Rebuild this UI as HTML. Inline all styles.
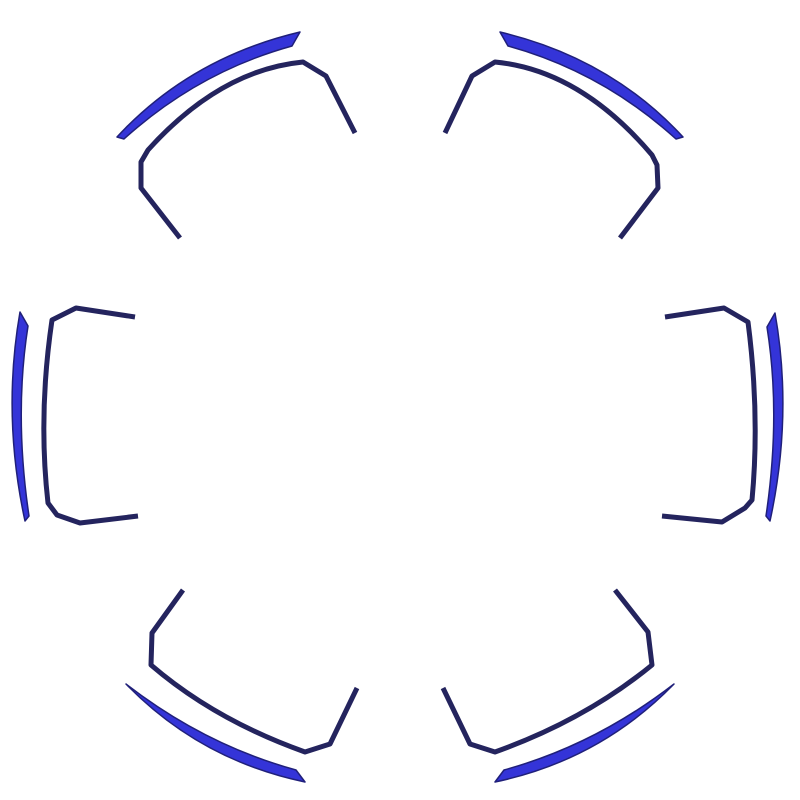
<!DOCTYPE html>
<html>
<head>
<meta charset="utf-8">
<style>
html,body{margin:0;padding:0;background:#fff;}
svg{display:block;}
.inner{fill:none;stroke:#24245e;stroke-width:5;stroke-linejoin:round;stroke-linecap:butt;}
.outer{fill:#3434d8;stroke:#20207a;stroke-width:1.5;stroke-linejoin:round;}
</style>
</head>
<body>
<svg width="800" height="800" viewBox="0 0 800 800">
  <g>
    <g>
      <path class="outer" d="M117,137 Q190,58 300,32 L292,46 Q198,72 124,139 Z"/>
      <path class="inner" d="M355,133 L326,76 L303,62 Q220,70 148,150 L141,162 L141,188 L180,238"/>
    </g>
    <g>
      <path class="outer" d="M20,312 Q2,415 25,521 L29,516 Q14,415 28,326 Z"/>
      <path class="inner" d="M135,317 L76,308 L52,320 Q38,415 48,503 L57,515 L80,523 L138,516"/>
    </g>
    <g>
      <path class="outer" d="M126,684 Q205,745 296,770 L305,782 Q200,760 126,684 Z"/>
      <path class="inner" d="M183,590 L152,633 L151,665 Q215,720 305,752 L330,744 L357,688"/>
    </g>
  </g>
  <g transform="translate(800,0) scale(-1,1)">
    <g>
      <path class="outer" d="M117,137 Q190,58 300,32 L292,46 Q198,72 124,139 Z"/>
      <path class="inner" d="M355,133 L328,76 L305,62 Q220,70 148,155 L143,165 L142,188 L180,238"/>
    </g>
    <g>
      <path class="outer" d="M25,313 Q7,415 30,521 L34,516 Q19,415 33,327 Z"/>
      <path class="inner" d="M135,317 L76,308 L52,322 Q40,415 48,500 L55,508 L78,522 L138,516"/>
    </g>
    <g>
      <path class="outer" d="M126,684 Q205,745 296,770 L305,782 Q200,760 126,684 Z"/>
      <path class="inner" d="M185,590 L152,632 L148,665 Q215,720 305,752 L330,744 L357,688"/>
    </g>
  </g>
</svg>
</body>
</html>
